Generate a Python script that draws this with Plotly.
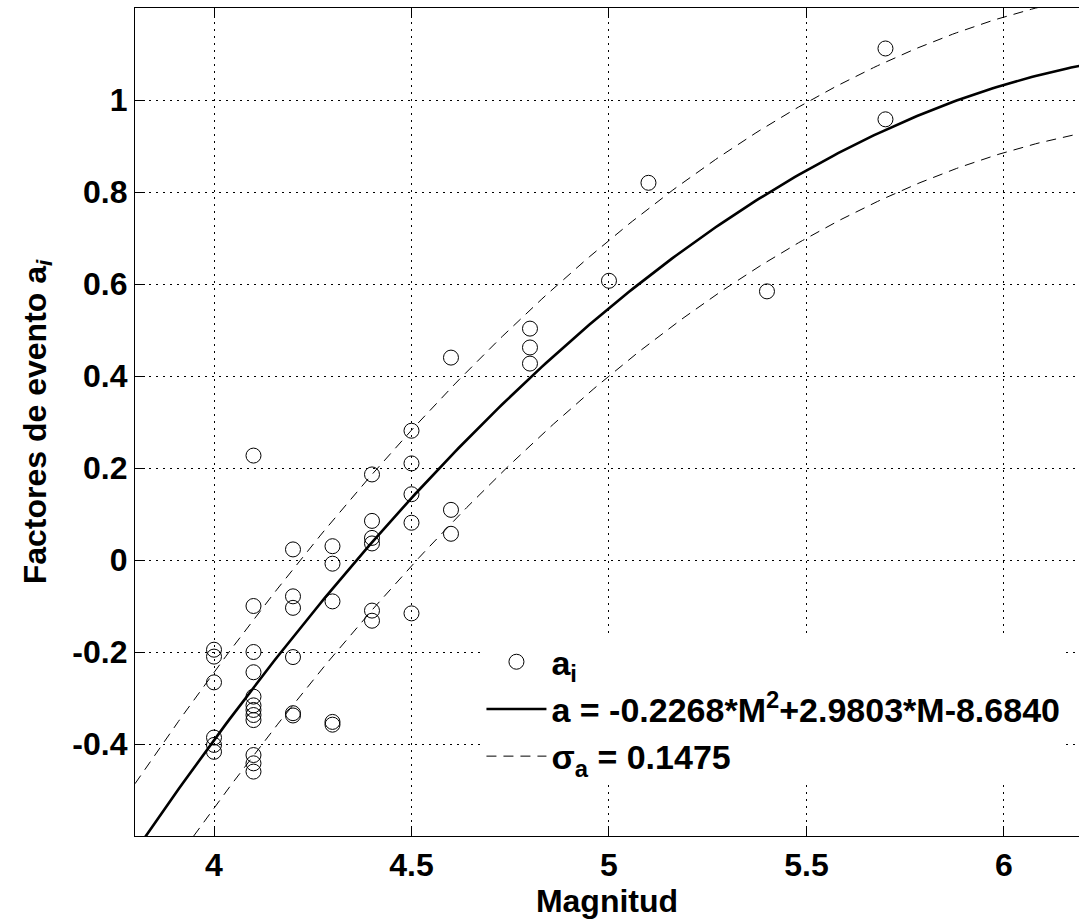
import plotly.graph_objects as go

# ---- data ----
magnitudes = ([4.0] * 6 + [4.1] * 12 + [4.2] * 6 + [4.3] * 5 + [4.4] * 6 +
              [4.5] * 5 + [4.6] * 3 + [4.8] * 3 + [5.0, 5.1, 5.4, 5.7, 5.7])
event_factors = [
    -0.195, -0.21, -0.266, -0.386, -0.402, -0.417,
    0.227, -0.1, -0.2, -0.244, -0.297, -0.316, -0.326, -0.337, -0.348, -0.424, -0.442, -0.46,
    0.023, -0.079, -0.104, -0.211, -0.333, -0.338,
    0.03, -0.008, -0.09, -0.352, -0.358,
    0.186, 0.085, 0.048, 0.036, -0.11, -0.132,
    0.281, 0.21, 0.143, 0.081, -0.116,
    0.44, 0.109, 0.057,
    0.503, 0.462, 0.427,
    0.607, 0.82, 0.584, 1.112, 0.958,
]

# fit stated in the legend: a = c2*M^2 + c1*M + c0, sigma_a
fit_c2, fit_c1, fit_c0 = -0.2268, 2.9803, -8.6840
sigma_a = 0.1475
fit_m = [3.8 + 0.01 * i for i in range(241)]

x_ticks = [4, 4.5, 5, 5.5, 6]
x_tick_text = ["4", "4.5", "5", "5.5", "6"]
y_ticks = [-0.4, -0.2, 0, 0.2, 0.4, 0.6, 0.8, 1]
y_tick_text = ["-0.4", "-0.2", "0", "0.2", "0.4", "0.6", "0.8", "1"]

fit_a = [fit_c2 * m * m + fit_c1 * m + fit_c0 for m in fit_m]
upper = [v + sigma_a for v in fit_a]
lower = [v - sigma_a for v in fit_a]

FONT = "Liberation Sans, Arial, sans-serif"

fig = go.Figure()
fig.add_trace(go.Scatter(
    x=magnitudes, y=event_factors, mode="markers", name="a<sub>i</sub>",
    marker=dict(symbol="circle-open", size=15, color="black", line=dict(width=1, color="black")),
))
fig.add_trace(go.Scatter(
    x=fit_m, y=fit_a, mode="lines",
    name="a = -0.2268*M<sup>2</sup>+2.9803*M-8.6840",
    line=dict(color="black", width=2.6),
))
fig.add_trace(go.Scatter(
    x=fit_m, y=upper, mode="lines", name="σ<sub>a</sub> = 0.1475",
    line=dict(color="black", width=1, dash="10px,7px"),
))
fig.add_trace(go.Scatter(
    x=fit_m, y=lower, mode="lines", showlegend=False,
    line=dict(color="black", width=1, dash="10px,7px"),
))

axis_common = dict(
    showline=True, linecolor="black", linewidth=1.3,
    ticks="inside", ticklen=10, tickwidth=1, tickcolor="black",
    showgrid=True, gridcolor="black", gridwidth=1, griddash="2px,5px",
    zeroline=False,
    tickfont=dict(family=FONT, size=32, color="black", weight=700),
)

fig.update_xaxes(
    range=[3.8, 6.19], tickvals=x_ticks, ticktext=x_tick_text, mirror="ticks",
    title=dict(text="Magnitud", font=dict(family=FONT, size=32, color="black", weight=700), standoff=4),
    **axis_common,
)
fig.update_yaxes(
    range=[-0.6, 1.2], tickvals=y_ticks, ticktext=y_tick_text, mirror=False,
    title=dict(text="Factores de evento a<sub><i>i</i></sub>",
               font=dict(family=FONT, size=32, color="black", weight=700), standoff=16),
    **axis_common,
)

fig.update_layout(
    width=1079, height=920,
    margin=dict(l=135, r=0, t=8, b=84),
    paper_bgcolor="white", plot_bgcolor="white",
    showlegend=True,
    legend=dict(
        x=0.367, y=0.245, xanchor="left", yanchor="top",
        bgcolor="white", borderwidth=0,
        font=dict(family=FONT, size=34, color="black", weight=700),
        itemwidth=60, tracegroupgap=0,
    ),
)

fig.write_html("out.html")
